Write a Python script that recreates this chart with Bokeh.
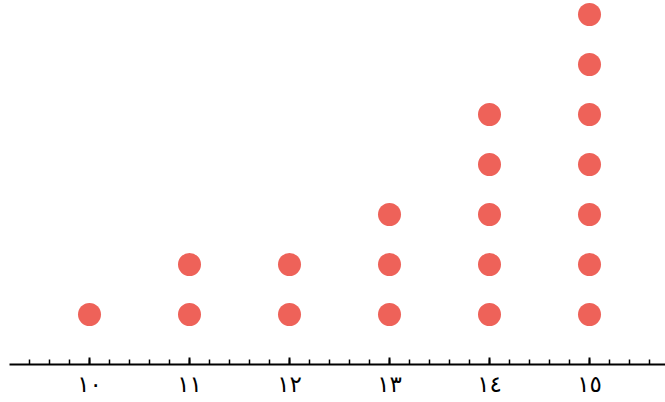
from bokeh.plotting import figure
from bokeh.models import FixedTicker, ColumnDataSource, Range1d
from bokeh.embed import file_html
from bokeh.resources import INLINE

# data
values = [10, 11, 12, 13, 14, 15]
counts = [1, 2, 2, 3, 5, 7]
tick_labels = ["١٠", "١١", "١٢", "١٣", "١٤", "١٥"]

xs, ys = [], []
for v, c in zip(values, counts):
    for k in range(1, c + 1):
        xs.append(v)
        ys.append(k)
src = ColumnDataSource(dict(x=xs, y=ys))

# frame: x from 9 to 665 px, y from 0 to 364 px
p = figure(width=665, height=402, output_backend="svg", toolbar_location=None,
           x_range=Range1d(9.2, 15.76), y_range=Range1d(0, 364 / 50),
           min_border_left=9, min_border_right=0, min_border_top=0, min_border_bottom=38)
p.scatter("x", "y", source=src, size=23, fill_color="#ee6259", line_color=None)

p.xgrid.visible = False
p.ygrid.visible = False
p.yaxis.visible = False
p.outline_line_color = None
p.background_fill_color = "white"
p.border_fill_color = "white"

ax = p.xaxis[0]
ax.ticker = FixedTicker(ticks=values, minor_ticks=[round(9.4 + 0.2 * i, 1) for i in range(32)])
ax.major_label_overrides = {v: t for v, t in zip(values, tick_labels)}
ax.axis_line_width = 2
ax.axis_line_color = "black"
ax.major_tick_in = 7
ax.major_tick_out = 0
ax.minor_tick_in = 5
ax.minor_tick_out = 0
ax.major_tick_line_width = 2
ax.minor_tick_line_width = 1.5
ax.major_tick_line_color = "black"
ax.minor_tick_line_color = "black"
ax.major_label_text_font = "DejaVu Sans"
ax.major_label_text_font_size = "23px"
ax.major_label_text_color = "black"
ax.major_label_standoff = 6

open("out.html", "w").write(file_html(p, INLINE))
